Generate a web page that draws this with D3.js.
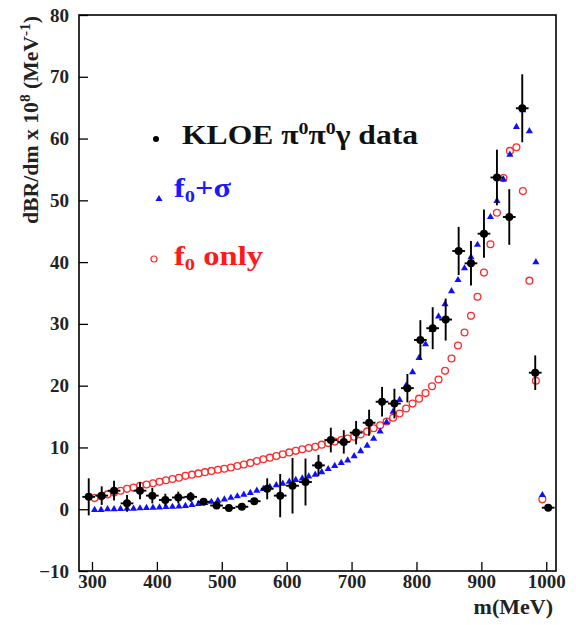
<!DOCTYPE html>
<html>
<head>
<meta charset="utf-8">
<script src="https://cdn.jsdelivr.net/npm/d3@7/dist/d3.min.js"></script>
<style>
  html, body { margin: 0; padding: 0; background: #fff; }
  svg { display: block; }
  text { font-family: "Liberation Serif", "Times New Roman", serif; font-weight: bold; }
</style>
</head>
<body>
<svg id="chart" width="576" height="625"></svg>
<script>
// KLOE pi0 pi0 gamma invariant-mass spectrum (dBR/dm x 1e8, MeV^-1)
const dataMass = [295, 315, 334, 354, 374, 393, 413, 433, 452, 472, 492, 511, 531, 550, 570, 590, 609, 629, 649,
  668, 688, 707, 727, 747, 766, 786, 806, 825, 845, 865, 884, 904, 924, 943, 963, 983, 1003];
const dataValue = [2.0, 2.2, 3.0, 0.95, 3.0, 2.2, 1.5, 1.9, 2.0, 1.2, 0.6, 0.2, 0.4, 1.3, 3.3, 2.2, 3.8, 4.4, 7.1,
  11.2, 10.9, 12.4, 14.0, 17.4, 17.1, 19.6, 27.4, 29.3, 30.7, 41.8, 39.8, 44.6, 53.7, 47.3, 64.9, 22.1, 0.25];
const dataError = [3.0, 1.5, 1.6, 1.35, 1.4, 1.25, 1.0, 0.95, 0.8, 0.4, 0.4, 0.3, 0.3, 0.5, 1.7, 3.5, 4.5, 3.8, 1.7,
  2.0, 1.9, 1.9, 2.1, 2.4, 2.4, 2.3, 3.2, 3.4, 3.4, 3.9, 3.6, 3.9, 4.5, 4.5, 5.5, 2.8, 0.2];
const binHalfWidth = 9.8;

// model curves, evaluated every 10 MeV
const modelMass = [304, 314, 324, 334, 344, 354, 364, 374, 384, 394, 404, 414, 424, 434, 444, 454, 464, 474, 484, 494,
  504, 514, 524, 534, 544, 554, 564, 574, 584, 594, 604, 614, 624, 634, 644, 654, 664, 674, 684, 694,
  704, 714, 724, 734, 744, 754, 764, 774, 784, 794, 804, 814, 824, 834, 844, 854, 864, 874, 884, 894,
  904, 914, 924, 934, 944, 954, 964, 974, 984, 994];
// f0 + sigma
const f0SigmaValue = [-0.1, -0.1, 0.0, 0.0, 0.05, 0.1, 0.1, 0.15, 0.2, 0.25, 0.3, 0.35, 0.4, 0.45, 0.55, 0.7, 0.85, 1.0, 1.2, 1.4,
  1.6, 1.85, 2.1, 2.35, 2.65, 3.0, 3.3, 3.6, 3.9, 4.15, 4.45, 4.75, 5.0, 5.3, 5.6, 6.0, 6.5, 7.0, 7.5, 7.9,
  8.6, 9.4, 10.3, 11.4, 12.6, 14.1, 15.8, 17.7, 20.0, 22.2, 24.5, 26.7, 29.0, 31.2, 33.2, 35.3, 37.1, 39.0, 40.8, 42.8,
  44.8, 47.3, 49.9, 53.4, 57.4, 61.9, 64.6, 61.2, 40.0, 2.3];
// f0 only
const f0OnlyValue = [1.8, 2.1, 2.4, 2.7, 3.0, 3.3, 3.5, 3.8, 4.0, 4.2, 4.45, 4.7, 4.9, 5.1, 5.4, 5.6, 5.8, 6.0, 6.2, 6.4,
  6.55, 6.75, 7.0, 7.25, 7.5, 7.8, 8.1, 8.35, 8.6, 8.9, 9.2, 9.45, 9.7, 9.9, 10.1, 10.45, 10.7, 10.95, 11.2, 11.45,
  11.75, 12.1, 12.6, 13.1, 13.6, 14.2, 14.8, 15.5, 16.3, 17.1, 17.9, 18.8, 19.9, 21.0, 22.4, 24.4, 26.5, 28.6, 31.3, 34.4,
  38.3, 42.9, 48.0, 53.6, 58.0, 58.6, 51.5, 37.0, 20.8, 1.6];

const xMajorTicks = [300, 400, 500, 600, 700, 800, 900, 1000];
const yMajorTicks = [-10, 0, 10, 20, 30, 40, 50, 60, 70, 80];

const svg = d3.select("#chart");
const plotLeft = 79, plotRight = 556, plotTop = 15, plotBottom = 571;

const x = d3.scaleLinear().domain([280, 1015]).range([plotLeft, plotRight]);
const y = d3.scaleLinear().domain([-10, 80]).range([plotBottom, plotTop]);

// minor ticks
const xMinor = d3.range(300, 1001, 20).filter(v => v % 100 !== 0);
const yMinor = d3.range(-10, 80, 2).filter(v => v % 10 !== 0);

const gx = svg.append("g").attr("transform", `translate(0,${plotBottom})`);
gx.call(d3.axisBottom(x).tickValues(xMinor).tickSize(-5).tickFormat(""));
gx.call(d3.axisBottom(x).tickValues(xMajorTicks).tickSize(-9).tickPadding(4).tickFormat(d3.format("d")));
const gy = svg.append("g").attr("transform", `translate(${plotLeft},0)`);
gy.call(d3.axisLeft(y).tickValues(yMinor).tickSize(-5).tickFormat(""));
gy.call(d3.axisLeft(y).tickValues(yMajorTicks).tickSize(-9).tickPadding(10).tickFormat(d3.format("d")));

svg.selectAll(".domain").remove();
svg.selectAll(".tick line").attr("stroke", "#000").attr("stroke-width", 1.3);
svg.selectAll(".tick text").attr("font-family", "Liberation Serif").attr("font-weight", "bold")
  .attr("font-size", 19).attr("fill", "#222");

// frame
svg.append("rect").attr("x", plotLeft).attr("y", plotTop)
  .attr("width", plotRight - plotLeft).attr("height", plotBottom - plotTop)
  .attr("fill", "none").attr("stroke", "#000").attr("stroke-width", 1.6);

// f0 only: open red circles
svg.append("g").selectAll("circle").data(modelMass).join("circle")
  .attr("cx", d => x(d)).attr("cy", (d, i) => y(f0OnlyValue[i])).attr("r", 3.4)
  .attr("fill", "none").attr("stroke", "#ff2a2a").attr("stroke-width", 1.3);

// f0 + sigma: blue triangles
const tri = d3.symbol().type(d3.symbolTriangle).size(22);
svg.append("g").selectAll("path").data(modelMass).join("path")
  .attr("d", tri)
  .attr("transform", (d, i) => `translate(${x(d)},${y(f0SigmaValue[i])})`)
  .attr("fill", "#1010ff");

// data with error bars
const gd = svg.append("g");
dataMass.forEach((m, i) => {
  const v = dataValue[i], e = dataError[i];
  gd.append("line").attr("x1", x(m)).attr("x2", x(m)).attr("y1", y(v - e)).attr("y2", y(v + e))
    .attr("stroke", "#000").attr("stroke-width", 1.9);
  gd.append("line").attr("x1", x(m - binHalfWidth)).attr("x2", x(m + binHalfWidth)).attr("y1", y(v)).attr("y2", y(v))
    .attr("stroke", "#000").attr("stroke-width", 1.9);
  gd.append("circle").attr("cx", x(m)).attr("cy", y(v)).attr("r", 4).attr("fill", "#000");
});

// y-axis title
const yt = svg.append("text").attr("transform", "translate(38,120) rotate(-90)")
  .attr("text-anchor", "middle").attr("font-size", 20).attr("fill", "#222")
  .attr("textLength", 208).attr("lengthAdjust", "spacingAndGlyphs");
yt.append("tspan").text("dBR/dm x 10");
yt.append("tspan").attr("dy", -8).attr("font-size", 14).text("8");
yt.append("tspan").attr("dy", 8).text(" (MeV");
yt.append("tspan").attr("dy", -8).attr("font-size", 14).text("-1");
yt.append("tspan").attr("dy", 8).text(")");

// x-axis title
svg.append("text").attr("x", 553).attr("y", 614).attr("text-anchor", "end")
  .attr("font-size", 22).attr("fill", "#222").text("m(MeV)");

// legend
const lg = svg.append("g");
lg.append("circle").attr("cx", 156).attr("cy", 139).attr("r", 3).attr("fill", "#000");
const t1 = lg.append("text").attr("x", 182).attr("y", 144).attr("font-size", 27).attr("fill", "#111")
  .attr("textLength", 236).attr("lengthAdjust", "spacingAndGlyphs");
t1.append("tspan").text("KLOE π");
t1.append("tspan").attr("dy", -10).attr("font-size", 17).text("0");
t1.append("tspan").attr("dy", 10).text("π");
t1.append("tspan").attr("dy", -10).attr("font-size", 17).text("0");
t1.append("tspan").attr("dy", 10).text("γ data");

lg.append("path").attr("d", tri).attr("transform", "translate(159,199)").attr("fill", "#1010ff");
const t2 = lg.append("text").attr("x", 174).attr("y", 197).attr("font-size", 27).attr("fill", "#1a1aff")
  .attr("textLength", 57).attr("lengthAdjust", "spacingAndGlyphs");
t2.append("tspan").text("f");
t2.append("tspan").attr("dy", 5).attr("font-size", 17).text("0");
t2.append("tspan").attr("dy", -5).text("+σ");

lg.append("circle").attr("cx", 154).attr("cy", 259).attr("r", 3).attr("fill", "none")
  .attr("stroke", "#ff2a2a").attr("stroke-width", 1.2);
const t3 = lg.append("text").attr("x", 174).attr("y", 265).attr("font-size", 27).attr("fill", "#ff1a1a")
  .attr("textLength", 89).attr("lengthAdjust", "spacingAndGlyphs");
t3.append("tspan").text("f");
t3.append("tspan").attr("dy", 5).attr("font-size", 17).text("0");
t3.append("tspan").attr("dy", -5).text(" only");
</script>
</body>
</html>
